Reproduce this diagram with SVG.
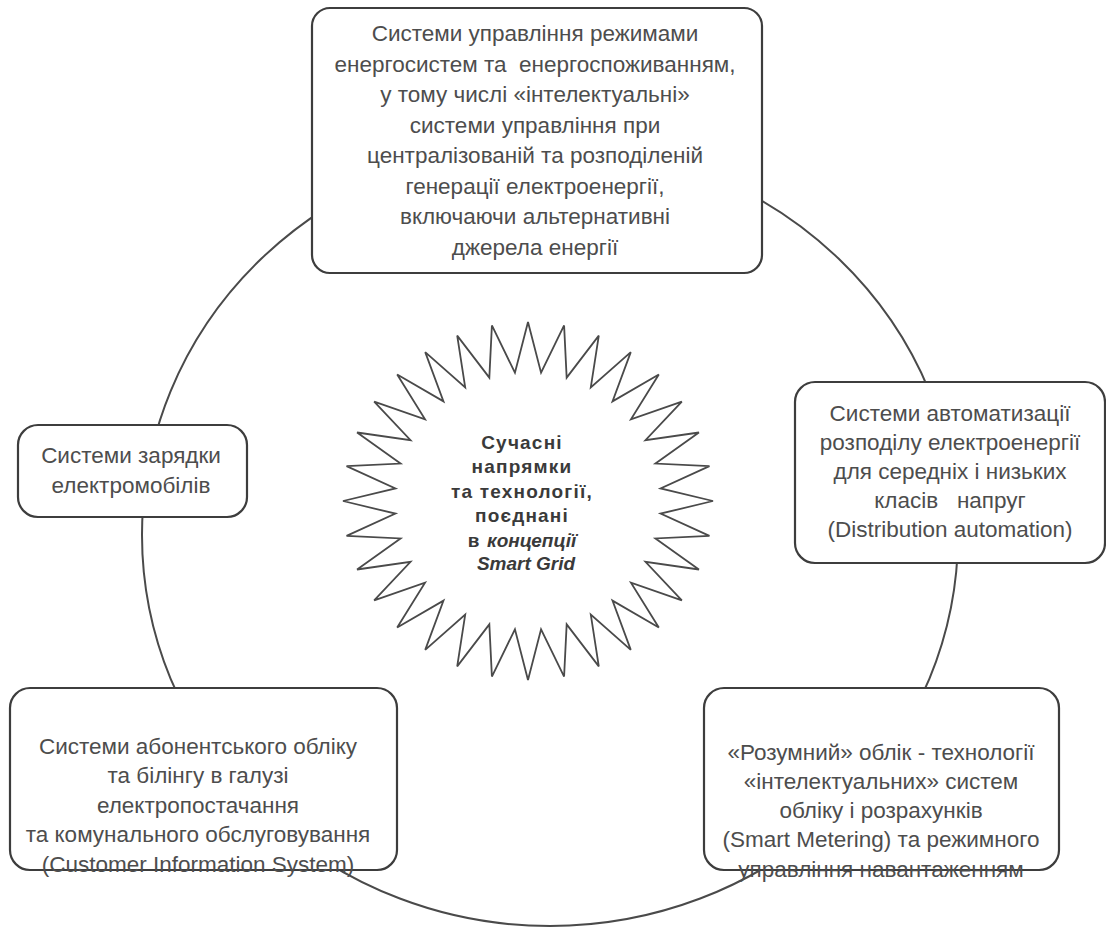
<svg xmlns="http://www.w3.org/2000/svg" width="1106" height="930" viewBox="0 0 1106 930">
  <style>
    .box { fill: #ffffff; stroke: #3d3d3d; stroke-width: 2.2; }
    .ring { fill: none; stroke: #4a4a4a; stroke-width: 2; }
    .star { fill: #ffffff; stroke: #4a4a4a; stroke-width: 1.8; }
    .t { font-family: "Liberation Sans", Arial, sans-serif; font-size: 22.5px; fill: #4d4d4d; text-anchor: middle; }
    .c { font-family: "Liberation Sans", Arial, sans-serif; font-size: 19px; font-weight: bold; fill: #3a3a3a; text-anchor: middle; letter-spacing: 1.2px; }
    .it { font-style: italic; letter-spacing: 0; }
  </style>
  <rect width="1106" height="930" fill="#ffffff"/>

  <!-- ring linking the surrounding blocks -->
  <g id="connectors">
    <ellipse class="ring" cx="550" cy="535" rx="408" ry="391"/>
  </g>

  <!-- central 32-point star -->
  <g id="center">
    <polygon class="star" vector-effect="non-scaling-stroke" transform="translate(528,501) scale(1.85,1.79)"
      points="0,-100 7.06,-71.66 19.51,-98.08 20.90,-68.90 38.27,-92.39 33.94,-63.50 55.56,-83.15 45.68,-55.66 70.71,-70.71 55.66,-45.68 83.15,-55.56 63.50,-33.94 92.39,-38.27 68.90,-20.90 98.08,-19.51 71.66,-7.06 100,0 71.66,7.06 98.08,19.51 68.90,20.90 92.39,38.27 63.50,33.94 83.15,55.56 55.66,45.68 70.71,70.71 45.68,55.66 55.56,83.15 33.94,63.50 38.27,92.39 20.90,68.90 19.51,98.08 7.06,71.66 0,100 -7.06,71.66 -19.51,98.08 -20.90,68.90 -38.27,92.39 -33.94,63.50 -55.56,83.15 -45.68,55.66 -70.71,70.71 -55.66,45.68 -83.15,55.56 -63.50,33.94 -92.39,38.27 -68.90,20.90 -98.08,19.51 -71.66,7.06 -100,0 -71.66,-7.06 -98.08,-19.51 -68.90,-20.90 -92.39,-38.27 -63.50,-33.94 -83.15,-55.56 -55.66,-45.68 -70.71,-70.71 -45.68,-55.66 -55.56,-83.15 -33.94,-63.50 -38.27,-92.39 -20.90,-68.90 -19.51,-98.08 -7.06,-71.66"/>
    <text class="c" x="522" y="449">Сучасні</text>
    <text class="c" x="522" y="473">напрямки</text>
    <text class="c" x="522" y="498">та технології,</text>
    <text class="c" x="522" y="522">поєднані</text>
    <text class="c" x="522" y="547">в <tspan class="it">концепції</tspan></text>
    <text class="c it" x="526" y="570">Smart Grid</text>
  </g>

  <g id="node-top">
    <rect class="box" x="312" y="8" width="450" height="265" rx="18"/>
    <text class="t" x="535" y="41">Системи управління режимами</text>
    <text class="t" x="535" y="72" xml:space="preserve">енергосистем та  енергоспоживанням,</text>
    <text class="t" x="535" y="102">у тому числі «інтелектуальні»</text>
    <text class="t" x="535" y="133">системи управління при</text>
    <text class="t" x="535" y="163">централізованій та розподіленій</text>
    <text class="t" x="535" y="194">генерації електроенергії,</text>
    <text class="t" x="535" y="224">включаючи альтернативні</text>
    <text class="t" x="535" y="255">джерела енергії</text>
  </g>

  <g id="node-left">
    <rect class="box" x="18" y="425" width="229" height="92" rx="20"/>
    <text class="t" x="131" y="463">Системи зарядки</text>
    <text class="t" x="131" y="493">електромобілів</text>
  </g>

  <g id="node-right">
    <rect class="box" x="795" y="382" width="310" height="181" rx="20"/>
    <text class="t" x="950" y="421">Системи автоматизації</text>
    <text class="t" x="950" y="450">розподілу електроенергії</text>
    <text class="t" x="950" y="479">для середніх і низьких</text>
    <text class="t" x="950" y="508" xml:space="preserve">класів   напруг</text>
    <text class="t" x="950" y="537">(Distribution automation)</text>
  </g>

  <g id="node-bottom-left">
    <rect class="box" x="10" y="688" width="387" height="182" rx="20"/>
    <text class="t" x="198" y="754">Системи абонентського обліку</text>
    <text class="t" x="198" y="783">та білінгу в галузі</text>
    <text class="t" x="198" y="813">електропостачання</text>
    <text class="t" x="198" y="842">та комунального обслуговування</text>
    <text class="t" x="198" y="872">(Customer Information System)</text>
  </g>

  <g id="node-bottom-right">
    <rect class="box" x="704" y="688" width="355" height="182" rx="20"/>
    <text class="t" x="881" y="760">«Розумний» облік - технології</text>
    <text class="t" x="881" y="789">«інтелектуальних» систем</text>
    <text class="t" x="881" y="818">обліку і розрахунків</text>
    <text class="t" x="881" y="847">(Smart Metering) та режимного</text>
    <text class="t" x="881" y="877">управління навантаженням</text>
  </g>
</svg>
